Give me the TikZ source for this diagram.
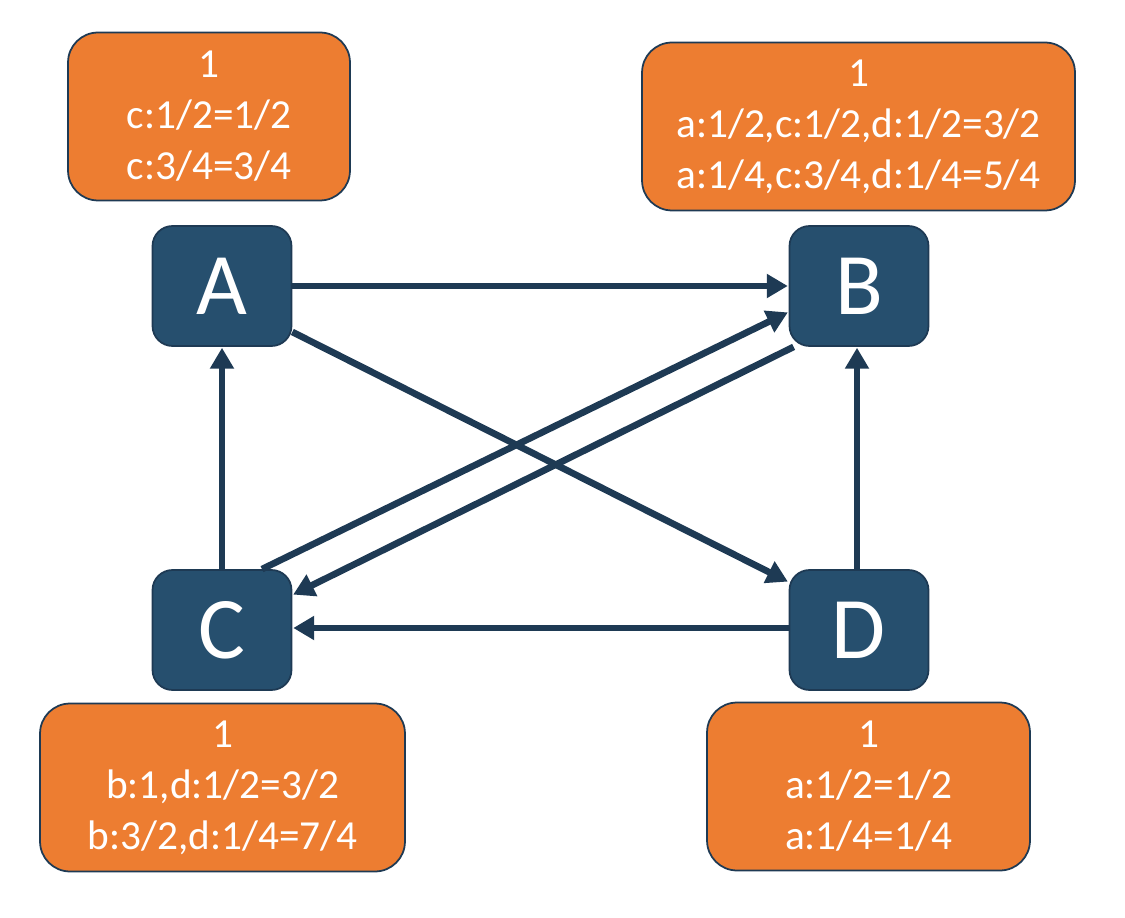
\documentclass[tikz,border=0pt]{standalone}
\usepackage{fontspec}
\setmainfont{Carlito}
\usetikzlibrary{arrows.meta}
\definecolor{nodeblue}{RGB}{38,79,110}
\definecolor{edgeblue}{RGB}{30,58,84}
\definecolor{boxorange}{RGB}{237,125,49}
\tikzset{
  vert/.style={draw=edgeblue, line width=1pt, fill=nodeblue, rounded corners=0.4cm,
    minimum width=2.78cm, minimum height=2.4cm, text=white, inner sep=0pt,
    font=\fontsize{50}{50}\selectfont},
  info/.style={draw=edgeblue, line width=1pt, fill=boxorange, rounded corners=0.6cm,
    text=white, align=center, inner sep=0pt, minimum height=3.36cm,
    font=\fontsize{23.5}{29}\selectfont},
  arr/.style={draw=edgeblue, line width=3.8pt, -{Triangle[length=0.42cm,width=0.46cm]}, shorten >=0.5pt},
}
\begin{document}
\begin{tikzpicture}[x=0.02cm,y=-0.02cm]
\useasboundingbox (0,0) rectangle (1125,918);
\node[vert] (A) at (222,286) {A};
\node[vert] (B) at (859,286) {B};
\node[vert] (C) at (222,630) {C};
\node[vert] (D) at (859,630) {D};
\node[info, minimum width=5.64cm] (IA) at (209,116.5) {1\\c:1/2=1/2\\c:3/4=3/4};
\node[info, minimum width=8.66cm] (IB) at (858.5,126.5) {1\\a:1/2,c:1/2,d:1/2=3/2\\a:1/4,c:3/4,d:1/4=5/4};
\node[info, minimum width=7.3cm] (IC) at (222.5,787.5) {1\\b:1,d:1/2=3/2\\b:3/2,d:1/4=7/4};
\node[info, minimum width=6.46cm] (ID) at (868.5,786.5) {1\\a:1/2=1/2\\a:1/4=1/4};
\draw[arr] (A.east) -- (B.west);
\draw[arr] ([yshift=-0.92cm]A.east) -- ([yshift=0.96cm]D.west);
\draw[arr] (C.north) -- (A.south);
\draw[arr] ([xshift=0.8cm]C.north) -- ([yshift=-0.52cm]B.west);
\draw[arr] ([xshift=0.1cm]B.south west) -- ([yshift=0.7cm]C.east);
\draw[arr] ([yshift=0.04cm]D.west) -- ([yshift=0.04cm]C.east);
\draw[arr] ([xshift=-0.04cm]D.north) -- ([xshift=-0.04cm]B.south);
\end{tikzpicture}
\end{document}
